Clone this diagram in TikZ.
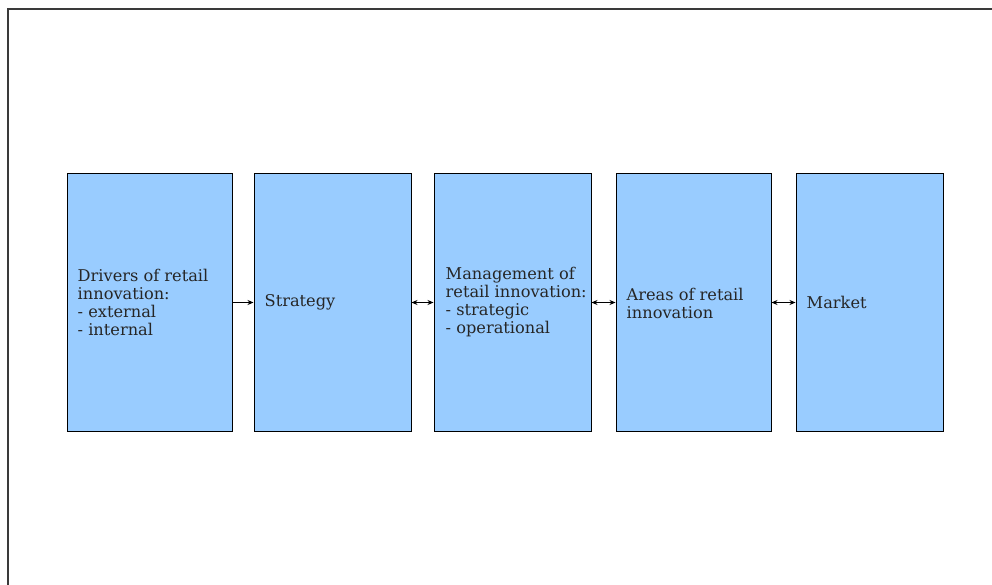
\documentclass[tikz,border=0pt]{standalone}
\usepackage{fontspec}
\setmainfont{DejaVu Serif}
\usetikzlibrary{arrows.meta}
\definecolor{boxblue}{HTML}{99CCFF}
\definecolor{framegray}{HTML}{3A3A3A}
\begin{document}
\begin{tikzpicture}[x=1pt,y=-1pt,
  stagebox/.style={draw=black,line width=1pt,fill=boxblue,inner sep=0pt,minimum height=257pt},
  stagetext/.style={anchor=west,align=left,inner sep=0pt,font=\fontsize{16.2pt}{18pt}\selectfont,text=black!85},
  link/.style={line width=0.7pt,-{Stealth[length=6pt,width=5pt]}},
  dlink/.style={line width=0.7pt,{Stealth[length=6pt,width=5pt]}-{Stealth[length=6pt,width=5pt]}}]
\useasboundingbox (0,0) rectangle (992,585);
% page frame lines
\coordinate (ftl) at (7.5,9.5);
\coordinate (ftr) at (992,9.5);
\coordinate (fbl) at (7.5,585);
\draw[framegray,line width=2pt] (ftr) -- (ftl) -- (fbl);
% stage boxes
\node[stagebox,minimum width=165pt] (b1) at (149.5,302.5) {};
\node[stagebox,minimum width=157pt] (b2) at (332.5,302.5) {};
\node[stagebox,minimum width=157pt] (b3) at (512.5,302.5) {};
\node[stagebox,minimum width=155pt] (b4) at (693.5,302.5) {};
\node[stagebox,minimum width=147pt] (b5) at (869.5,302.5) {};
% labels
\node[stagetext] (t1) at ([xshift=11pt]b1.west) {Drivers of retail\\innovation:\\- external\\- internal};
\node[stagetext] (t2) at ([xshift=11pt]b2.west) {Strategy};
\node[stagetext] (t3) at ([xshift=12pt]b3.west) {Management of\\retail innovation:\\- strategic\\- operational};
\node[stagetext] (t4) at ([xshift=11pt,yshift=-0.5pt]b4.west) {Areas of retail\\innovation};
\node[stagetext] (t5) at ([xshift=11pt]b5.west) {Market};
% connectors
\draw[link] (b1.east) -- (b2.west);
\draw[dlink] (b2.east) -- (b3.west);
\draw[dlink] (b3.east) -- (b4.west);
\draw[dlink] (b4.east) -- (b5.west);
\end{tikzpicture}
\end{document}
